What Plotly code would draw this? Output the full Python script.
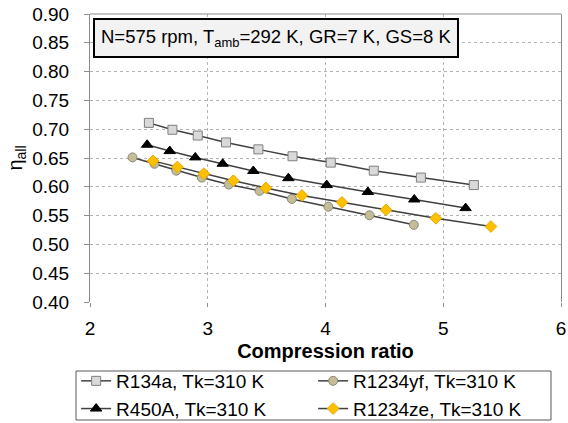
import plotly.graph_objects as go

# Data
r134a_x = [2.50, 2.70, 2.915, 3.155, 3.43, 3.72, 4.045, 4.41, 4.81, 5.26]
r134a_y = [0.711, 0.699, 0.689, 0.677, 0.665, 0.653, 0.642, 0.628, 0.616, 0.603]

r450a_x = [2.485, 2.677, 2.894, 3.127, 3.387, 3.685, 4.01, 4.36, 4.754, 5.19]
r450a_y = [0.673, 0.662, 0.651, 0.640, 0.6275, 0.615, 0.603, 0.591, 0.578, 0.563]

r1234yf_x = [2.361, 2.547, 2.733, 2.95, 3.178, 3.44, 3.714, 4.024, 4.374, 4.75]
r1234yf_y = [0.651, 0.640, 0.628, 0.616, 0.604, 0.593, 0.579, 0.5655, 0.5505, 0.534]

r1234ze_x = [2.535, 2.742, 2.967, 3.218, 3.494, 3.80, 4.14, 4.514, 4.937, 5.405]
r1234ze_y = [0.645, 0.6344, 0.6228, 0.6106, 0.598, 0.585, 0.573, 0.560, 0.5453, 0.531]

series_names = ["R134a, Tk=310 K", "R1234yf, Tk=310 K", "R450A, Tk=310 K", "R1234ze, Tk=310 K"]
y_ticks = [0.40, 0.45, 0.50, 0.55, 0.60, 0.65, 0.70, 0.75, 0.80, 0.85, 0.90]
x_ticks = [2, 3, 4, 5, 6]

FONT = "Liberation Sans, Arial, sans-serif"
LINE_C = "#404040"

W, H = 568, 423
ML, MR, MT, MB = 90, 7, 14, 121
PW, PH = W - ML - MR, H - MT - MB


def px_x(px):
    return (px - ML) / PW


def px_y(py):
    return (H - MB - py) / PH


fig = go.Figure()

fig.add_trace(go.Scatter(
    x=r134a_x, y=r134a_y, name=series_names[0], mode="lines+markers",
    line=dict(color=LINE_C, width=1.5),
    marker=dict(symbol="square", size=9, color="#d9d9d9", line=dict(color="#7f7f7f", width=1))))
fig.add_trace(go.Scatter(
    x=r1234yf_x, y=r1234yf_y, name=series_names[1], mode="lines+markers",
    line=dict(color=LINE_C, width=1.5),
    marker=dict(symbol="circle", size=9, color="#c4bd97", line=dict(color="#8a8774", width=1))))
fig.add_trace(go.Scatter(
    x=r450a_x, y=r450a_y, name=series_names[2], mode="lines+markers",
    line=dict(color=LINE_C, width=1.5),
    marker=dict(symbol="triangle-up", size=10, color="#000000", line=dict(color="#000000", width=1))))
fig.add_trace(go.Scatter(
    x=r1234ze_x, y=r1234ze_y, name=series_names[3], mode="lines+markers",
    line=dict(color=LINE_C, width=1.5),
    marker=dict(symbol="diamond", size=9, color="#ffc000", line=dict(color="#e6a800", width=1))))

grid = dict(showgrid=True, gridcolor="#b4b4b4", griddash="3px,3px", gridwidth=1, zeroline=False)

fig.update_xaxes(
    range=[2, 6], tickvals=x_ticks, ticktext=[str(v) for v in x_ticks],
    showline=False, ticks="outside", ticklen=4, tickcolor="#8c8c8c",
    tickfont=dict(family=FONT, size=19, color="#000"), ticklabelstandoff=5,
    title=dict(text="<b>Compression ratio</b>", font=dict(family=FONT, size=20, color="#000"), standoff=8),
    automargin=False, **grid)
fig.update_yaxes(
    range=[0.40, 0.90], tickvals=y_ticks, ticktext=[f"{v:.2f}" for v in y_ticks],
    showline=True, mirror=True, linecolor="#8c8c8c", linewidth=1,
    ticks="outside", ticklen=5, tickcolor="#8c8c8c",
    tickfont=dict(family=FONT, size=19, color="#000"), ticklabelstandoff=11,
    title=dict(text="η<sub>all</sub>", font=dict(family=FONT, size=20, color="#000"), standoff=4),
    automargin=False, **grid)

# top border of plot area
fig.add_shape(type="line", xref="paper", yref="paper", x0=0, x1=1, y0=1, y1=1,
              line=dict(color="#8c8c8c", width=1))
# legend frame
fig.add_shape(type="rect", xref="paper", yref="paper",
              x0=px_x(76), x1=px_x(551), y0=px_y(420), y1=px_y(371),
              line=dict(color="#595959", width=1), fillcolor="rgba(0,0,0,0)")

fig.add_annotation(
    xref="paper", yref="paper", x=0.0064, y=0.986, xanchor="left", yanchor="top",
    text="N=575 rpm, T<sub>amb</sub>=292 K, GR=7 K, GS=8 K", showarrow=False, align="left",
    font=dict(family=FONT, size=18.5, color="#000"),
    bgcolor="#f2f2f2", bordercolor="#000000", borderwidth=2, borderpad=6)

fig.update_layout(
    width=W, height=H,
    margin=dict(l=ML, r=MR, t=MT, b=MB),
    paper_bgcolor="white", plot_bgcolor="white",
    font=dict(family=FONT, size=19, color="#000"),
    showlegend=True,
    legend=dict(
        orientation="h", xref="container", yref="container",
        x=0.134, xanchor="left", y=1 - 362 / 423, yanchor="top",
        entrywidth=192, entrywidthmode="pixels",
        borderwidth=0, bgcolor="rgba(0,0,0,0)",
        font=dict(family=FONT, size=19, color="#000"),
        itemwidth=30, tracegroupgap=0))

fig.write_html("out.html")
